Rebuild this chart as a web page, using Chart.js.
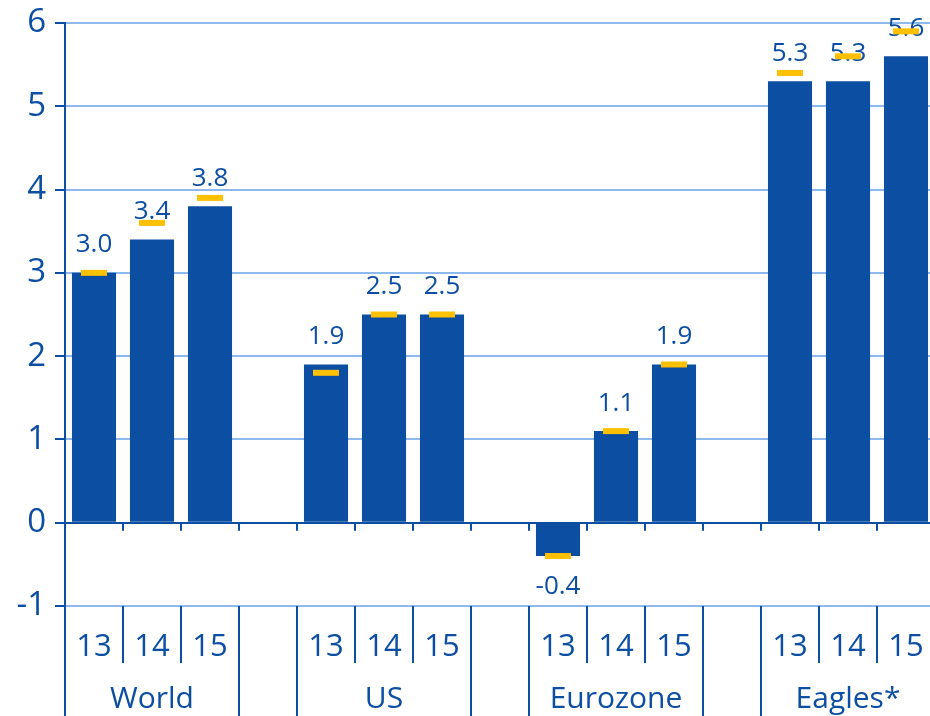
<!DOCTYPE html>
<html>
<head>
<meta charset="utf-8">
<script src="https://cdn.jsdelivr.net/npm/chart.js@4.4.1/dist/chart.umd.min.js"></script>
<style>
  html, body { margin: 0; padding: 0; background: #fff; overflow: hidden; }
  #wrap { width: 935px; height: 716px; }
</style>
</head>
<body>
<div id="wrap"><canvas id="growthChart" width="935" height="716"></canvas></div>
<script>
// years inside each region, empty slot = gap between regions
var categories = ['13', '14', '15', '', '13', '14', '15', '', '13', '14', '15', '', '13', '14', '15'];
var groups = ['World', 'US', 'Eurozone', 'Eagles*'];
var actual = [3.0, 3.4, 3.8, null, 1.9, 2.5, 2.5, null, -0.4, 1.1, 1.9, null, 5.3, 5.3, 5.6];
var previous = [3.0, 3.6, 3.9, null, 1.8, 2.5, 2.5, null, -0.4, 1.1, 1.9, null, 5.4, 5.6, 5.9];
var yTicks = [-1, 0, 1, 2, 3, 4, 5, 6];

var darkBlue = '#0b4ea2';
var lightBlue = '#8db9ee';
var yellow = '#ffc000';
var fontName = '"Open Sans", "Noto Sans", sans-serif';

// value labels above (or below) each bar
var valueLabels = {
    id: 'valueLabels',
    afterDatasetDraw: function (chart, args) {
        if (args.index !== 1) return;
        var ctx = chart.ctx;
        ctx.save();
        ctx.fillStyle = darkBlue;
        ctx.font = '26px ' + fontName;
        ctx.textAlign = 'center';
        ctx.textBaseline = 'middle';
        args.meta.data.forEach(function (bar, i) {
            var v = actual[i];
            if (v === null) return;
            var y = v >= 0 ? bar.y - 28 : bar.y + 31;
            ctx.fillText(v.toFixed(1), bar.x, y);
        });
        ctx.restore();
    }
};

// zero line ticks, separators under the plot and region names
var groupAxis = {
    id: 'groupAxis',
    afterDraw: function (chart) {
        var ctx = chart.ctx;
        var x = chart.scales.x, y = chart.scales.y;
        var slot = x.getPixelForValue(1) - x.getPixelForValue(0);
        var start = x.getPixelForValue(0) - slot / 2;
        var y0 = y.getPixelForValue(0);
        var bottom = chart.chartArea.bottom;
        ctx.save();
        ctx.strokeStyle = darkBlue;
        ctx.lineWidth = 2;
        for (var i = 0; i <= categories.length; i++) {
            var bx = Math.round(start + i * slot);
            ctx.beginPath();
            ctx.moveTo(bx, y0);
            ctx.lineTo(bx, y0 + 8);
            ctx.stroke();
            var isEdge = (i % 4 === 0) || (i % 4 === 3);
            ctx.beginPath();
            ctx.moveTo(bx, bottom);
            ctx.lineTo(bx, isEdge ? chart.height : bottom + 57);
            ctx.stroke();
        }
        ctx.fillStyle = darkBlue;
        ctx.font = '30px ' + fontName;
        ctx.textAlign = 'center';
        ctx.textBaseline = 'middle';
        groups.forEach(function (g, k) {
            var cx = x.getPixelForValue(k * 4 + 1);
            ctx.fillText(g, cx, 699);
        });
        ctx.restore();
    }
};

var ctxGrowth = document.getElementById('growthChart').getContext('2d');
var growthChart = new Chart(ctxGrowth, {
    type: 'bar',
    data: {
        labels: categories,
        datasets: [{
            type: 'line',
            label: 'Previous forecast',
            data: previous,
            showLine: false,
            pointStyle: 'line',
            pointRadius: 13,
            pointHoverRadius: 13,
            pointBorderWidth: 6,
            pointBorderColor: yellow,
            borderColor: yellow
        }, {
            label: 'Forecast',
            data: actual,
            backgroundColor: darkBlue,
            barPercentage: 0.76,
            categoryPercentage: 1.0
        }]
    },
    options: {
        responsive: false,
        animation: false,
        events: [],
        layout: { autoPadding: false, padding: { top: 0, right: 0, left: 0, bottom: 0 } },
        plugins: {
            legend: { display: false },
            tooltip: { enabled: false }
        },
        scales: {
            x: {
                grid: { display: false },
                border: { display: false },
                ticks: {
                    color: darkBlue,
                    font: { family: fontName, size: 31 },
                    padding: 15,
                    maxRotation: 0,
                    autoSkip: false
                },
                afterFit: function (s) {
                    s.height = 110;
                    s.paddingLeft = 0;
                    s.paddingRight = 0;
                }
            },
            y: {
                min: -1,
                max: 6,
                afterBuildTicks: function (s) {
                    s.ticks = yTicks.map(function (v) { return { value: v }; });
                },
                grid: {
                    color: function (c) { return c.tick && c.tick.value === 0 ? darkBlue : lightBlue; },
                    lineWidth: 2,
                    tickColor: darkBlue,
                    tickLength: 10
                },
                border: { color: darkBlue, width: 2 },
                ticks: {
                    color: darkBlue,
                    font: { family: fontName, size: 33 },
                    padding: 9
                },
                afterFit: function (s) {
                    s.width = 65;
                    s.paddingTop = 23;
                }
            }
        }
    },
    plugins: [valueLabels, groupAxis]
});
</script>
</body>
</html>
